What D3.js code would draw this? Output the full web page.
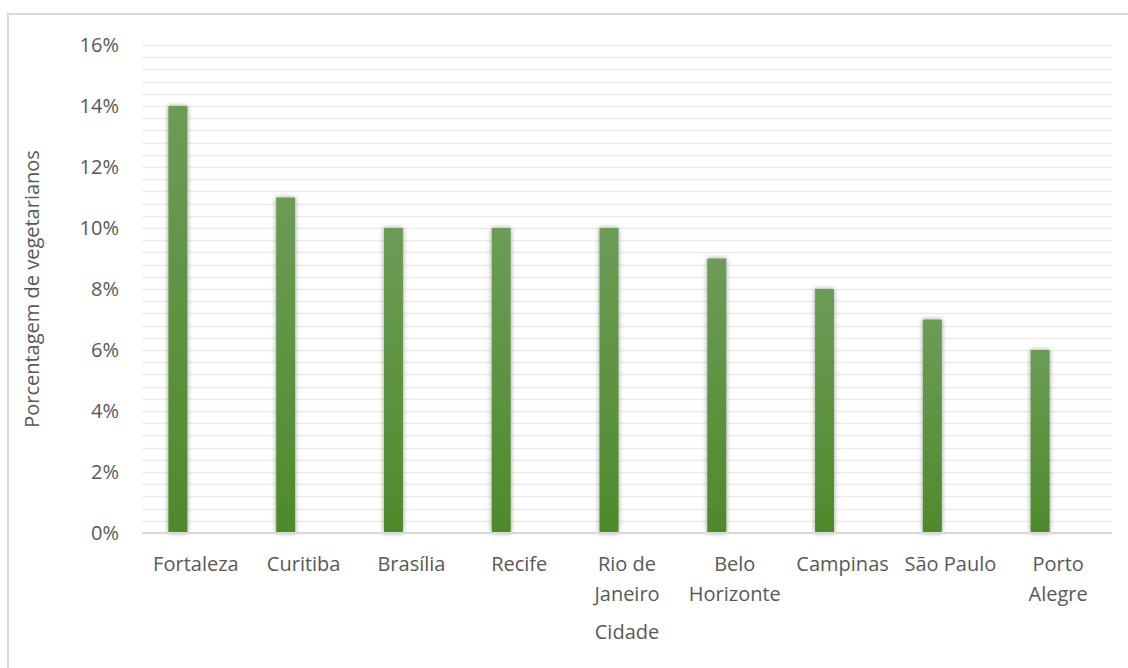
<!DOCTYPE html>
<html>
<head>
<meta charset="utf-8">
<script src="https://cdn.jsdelivr.net/npm/d3@7"></script>
<style>
  body { margin: 0; background: #fff; }
  svg { display: block; font-family: "Open Sans", sans-serif; }
  .tick-label, .axis-title { fill: #595959; font-size: 20px; }
</style>
</head>
<body>
<svg width="1128" height="668"></svg>
<script>
const cities = ["Fortaleza", "Curitiba", "Brasília", "Recife", "Rio de Janeiro",
                "Belo Horizonte", "Campinas", "São Paulo", "Porto Alegre"];
const percentVeg = [0.14, 0.11, 0.10, 0.10, 0.10, 0.09, 0.08, 0.07, 0.06];
const yTicks = [0, 0.02, 0.04, 0.06, 0.08, 0.10, 0.12, 0.14, 0.16];

const svg = d3.select("svg"),
      margin = { top: 45, right: 16, bottom: 135, left: 142 },
      width = +svg.attr("width") - margin.left - margin.right,
      height = +svg.attr("height") - margin.top - margin.bottom;

// outer frame (runs off the right and bottom edge like the original)
svg.append("rect")
    .attr("x", 8).attr("y", 14)
    .attr("width", 1140).attr("height", 680)
    .attr("fill", "none").attr("stroke", "#d9d9d9").attr("stroke-width", 2);

const defs = svg.append("defs");
const grad = defs.append("linearGradient")
    .attr("id", "barGrad").attr("x1", 0).attr("y1", 0).attr("x2", 0).attr("y2", 1);
grad.append("stop").attr("offset", "0%").attr("stop-color", "#6c9c57");
grad.append("stop").attr("offset", "100%").attr("stop-color", "#4e8a2b");

const shadow = defs.append("filter").attr("id", "barShadow")
    .attr("x", "-50%").attr("y", "-10%").attr("width", "200%").attr("height", "120%");
shadow.append("feDropShadow")
    .attr("dx", 0).attr("dy", 0).attr("stdDeviation", 2.5)
    .attr("flood-color", "#000").attr("flood-opacity", 0.4);

const chart = svg.append("g")
    .attr("transform", `translate(${margin.left},${margin.top})`);

const x = d3.scaleBand()
    .domain(cities)
    .range([0, width])
    .padding(0);

const y = d3.scaleLinear()
    .domain([0, 0.16])
    .range([height, 0]);

// minor + major gridlines
const minorTicks = d3.range(0, 0.16001, 0.004);
chart.append("g")
    .selectAll("line")
    .data(minorTicks)
    .join("line")
    .attr("x1", 0).attr("x2", width)
    .attr("y1", d => Math.round(y(d)) + 0.5).attr("y2", d => Math.round(y(d)) + 0.5)
    .attr("stroke", "#ececec").attr("stroke-width", 1.6);

// y axis labels
const yAxis = chart.append("g")
    .call(d3.axisLeft(y).tickValues(yTicks).tickFormat(d3.format(".0%")).tickSize(0).tickPadding(23));
yAxis.select(".domain").remove();
yAxis.selectAll("text")
    .attr("class", "tick-label")
    .style("font-family", "Open Sans, sans-serif")
    .style("font-size", "20px")
    .attr("fill", "#595959");

// bars, offset left of the category centre (empty second series slot)
const barW = 19, barShift = -18;
chart.selectAll(".bar")
    .data(cities.map((c, i) => ({ city: c, value: percentVeg[i] })))
    .enter()
    .append("rect")
    .attr("class", "bar")
    .attr("x", d => x(d.city) + x.bandwidth() / 2 + barShift - barW / 2)
    .attr("y", d => y(d.value))
    .attr("width", barW)
    .attr("height", d => height - y(d.value))
    .attr("fill", "url(#barGrad)")
    .attr("filter", "url(#barShadow)");

// baseline
chart.append("line")
    .attr("x1", 0).attr("x2", width)
    .attr("y1", height).attr("y2", height)
    .attr("stroke", "#d9d9d9").attr("stroke-width", 2);

// x axis labels with wrapping
const xAxis = chart.append("g")
    .attr("transform", `translate(0,${height})`)
    .call(d3.axisBottom(x).tickSize(0).tickPadding(24));
xAxis.select(".domain").remove();
xAxis.selectAll("text")
    .style("font-family", "Open Sans, sans-serif")
    .style("font-size", "20px")
    .attr("fill", "#595959")
    .call(wrap, x.bandwidth() - 6);

function wrap(texts, maxW) {
    texts.each(function() {
        const text = d3.select(this),
              words = text.text().split(/\s+/),
              yy = text.attr("y"), dy = parseFloat(text.attr("dy"));
        let line = [], lineNo = 0;
        let tspan = text.text(null).append("tspan").attr("x", 0).attr("y", yy).attr("dy", dy + "em");
        words.forEach(w => {
            line.push(w);
            tspan.text(line.join(" "));
            if (tspan.node().getComputedTextLength() > maxW && line.length > 1) {
                line.pop();
                tspan.text(line.join(" "));
                line = [w];
                lineNo++;
                tspan = text.append("tspan").attr("x", 0).attr("y", yy)
                    .attr("dy", (dy + lineNo * 1.5) + "em").text(w);
            }
        });
    });
}

// axis titles
svg.append("text")
    .attr("class", "axis-title")
    .attr("x", margin.left + width / 2)
    .attr("y", 639)
    .attr("text-anchor", "middle")
    .text("Cidade");

svg.append("text")
    .attr("class", "axis-title")
    .attr("transform", `translate(39,${margin.top + height / 2}) rotate(-90)`)
    .attr("text-anchor", "middle")
    .text("Porcentagem de vegetarianos");
</script>
</body>
</html>
